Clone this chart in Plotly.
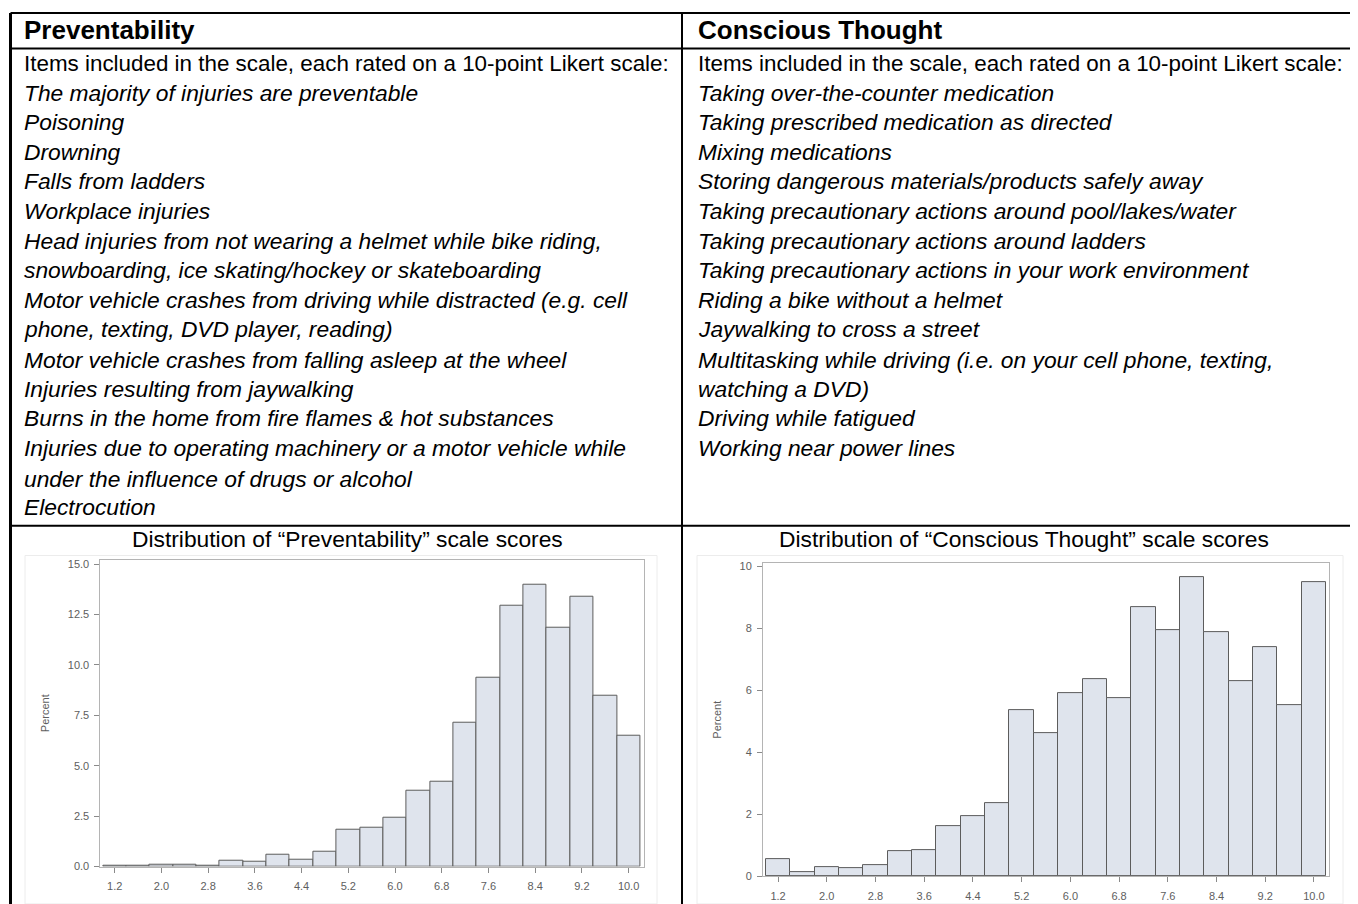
import plotly.graph_objects as go

# page body has an 8px default margin, so the figure is sized to fit inside it
OFF = 8
W, H = 1358 - OFF, 904 - OFF

# ---------------- data ----------------
bin_centers = [1.2, 1.6, 2.0, 2.4, 2.8, 3.2, 3.6, 4.0, 4.4, 4.8, 5.2, 5.6,
               6.0, 6.4, 6.8, 7.2, 7.6, 8.0, 8.4, 8.8, 9.2, 9.6, 10.0]
preventability_pct = [0.02, 0.05, 0.08, 0.07, 0.05, 0.28, 0.25, 0.57, 0.33, 0.72,
                      1.82, 1.92, 2.41, 3.77, 4.21, 7.14, 9.35, 12.95, 13.98,
                      11.86, 13.41, 8.47, 6.48]
conscious_pct = [0.55, 0.12, 0.31, 0.26, 0.35, 0.81, 0.83, 1.62, 1.95, 2.35,
                 5.36, 4.62, 5.90, 6.36, 5.75, 8.67, 7.94, 9.64, 7.87, 6.30,
                 7.39, 5.53, 9.50]
x_ticks = [1.2, 2.0, 2.8, 3.6, 4.4, 5.2, 6.0, 6.8, 7.6, 8.4, 9.2, 10.0]
y_ticks_left = [0, 2.5, 5.0, 7.5, 10.0, 12.5, 15.0]
y_ticks_right = [0, 2, 4, 6, 8, 10]

header_left = "Preventability"
header_right = "Conscious Thought"
intro = "Items included in the scale, each rated on a 10-point Likert scale:"
items_left = [
    "The majority of injuries are preventable",
    "Poisoning",
    "Drowning",
    "Falls from ladders",
    "Workplace injuries",
    "Head injuries from not wearing a helmet while bike riding,",
    "snowboarding, ice skating/hockey or skateboarding",
    "Motor vehicle crashes from driving while distracted (e.g. cell",
    "phone, texting, DVD player, reading)",
    "Motor vehicle crashes from falling asleep at the wheel",
    "Injuries resulting from jaywalking",
    "Burns in the home from fire flames & hot substances",
    "Injuries due to operating machinery or a motor vehicle while",
    "under the influence of drugs or alcohol",
    "Electrocution",
]
items_right = [
    "Taking over-the-counter medication",
    "Taking prescribed medication as directed",
    "Mixing medications",
    "Storing dangerous materials/products safely away",
    "Taking precautionary actions around pool/lakes/water",
    "Taking precautionary actions around ladders",
    "Taking precautionary actions in your work environment",
    "Riding a bike without a helmet",
    "Jaywalking to cross a street",
    "Multitasking while driving (i.e. on your cell phone, texting,",
    "watching a DVD)",
    "Driving while fatigued",
    "Working near power lines",
]
title_left = "Distribution of \u201cPreventability\u201d scale scores"
title_right = "Distribution of \u201cConscious Thought\u201d scale scores"

# ---------------- helpers (page pixel -> paper) ----------------
def px(x):
    return (x - OFF) / W

def py(y):
    return 1 - (y - OFF) / H

TEXT_FONT = "Liberation Sans"
AX_FONT = "Liberation Sans"
BAR_FILL = "#dfe4ed"
BAR_LINE = "#5c5c5c"

fig = go.Figure()
fig.add_trace(go.Bar(x=bin_centers, y=preventability_pct, width=0.4,
                     marker=dict(color=BAR_FILL, line=dict(color=BAR_LINE, width=1)),
                     xaxis="x", yaxis="y", showlegend=False))
fig.add_trace(go.Bar(x=bin_centers, y=conscious_pct, width=0.4,
                     marker=dict(color=BAR_FILL, line=dict(color=BAR_LINE, width=1)),
                     xaxis="x2", yaxis="y2", showlegend=False))

axis_common = dict(showgrid=False, zeroline=False, showline=True, linecolor="#b4b4b4",
                   linewidth=1, mirror=True, ticks="outside", ticklen=5, tickcolor="#8a8a8a",
                   tickfont=dict(family=AX_FONT, size=11, color="#5e5e5e"))
ytitle_font = dict(family=AX_FONT, size=11, color="#5e5e5e")

fig.update_layout(
    width=W, height=H, autosize=False,
    margin=dict(l=0, r=0, t=0, b=0),
    paper_bgcolor="white", plot_bgcolor="white",
    bargap=0,
    xaxis=dict(domain=[px(100.4), px(644)], range=[0.955, 10.264], anchor="y",
               tickvals=x_ticks, ticktext=[f"{v:.1f}" for v in x_ticks],
               ticklabelstandoff=4, **axis_common),
    yaxis=dict(domain=[py(872.3), py(562.3)], range=[0, 15.22], anchor="x",
               tickvals=y_ticks_left, ticktext=[f"{v:.1f}" for v in y_ticks_left],
               ticklabelstandoff=3,
               title=dict(text="Percent", font=ytitle_font, standoff=15),
               **axis_common),
    xaxis2=dict(domain=[px(763), px(1329)], range=[0.953, 10.247], anchor="y2",
                tickvals=x_ticks, ticktext=[f"{v:.1f}" for v in x_ticks],
                ticklabelstandoff=5, **axis_common),
    yaxis2=dict(domain=[py(882), py(565.7)], range=[0, 10.1], anchor="x2",
                tickvals=y_ticks_right, ticktext=[str(v) for v in y_ticks_right],
                ticklabelstandoff=3,
                title=dict(text="Percent", font=ytitle_font, standoff=15),
                **axis_common),
)

shapes = []
# faint SAS graph frames
for x0, x1 in [(25, 657), (697, 1343)]:
    shapes.append(dict(type="rect", xref="paper", yref="paper",
                       x0=px(x0), x1=px(x1), y0=py(910), y1=py(558),
                       line=dict(color="#ececec", width=1), fillcolor="rgba(0,0,0,0)", layer="below"))
# table borders
lines = [
    (10.5, 10, 1360, 10, 2),     # top
    (10.5, 46, 1360, 46, 2),     # header separator
    (10.5, 528, 1360, 528, 2),   # text / chart separator
    (10.5, 10, 10.5, 910, 3),    # left border
    (682, 10, 682, 910, 2),      # middle border
]
for x0, y0, x1, y1, w in lines:
    shapes.append(dict(type="line", xref="paper", yref="paper",
                       x0=px(x0), y0=py(y0), x1=px(x1), y1=py(y1),
                       line=dict(color="black", width=w)))
fig.update_layout(shapes=shapes)

ann = []
def text(x, y, s, size=22.4, anchor="left"):
    ann.append(dict(xref="paper", yref="paper", x=px(x), y=py(y), text=s, showarrow=False,
                    xanchor=anchor, yanchor="middle",
                    font=dict(family=TEXT_FONT, size=size, color="black")))

LINE_Y = [61.5, 90.5, 120.5, 150.5, 179.5, 210.5, 240.5, 269.5, 299.5, 329.5,
          360.5, 389.5, 419.5, 449.5, 480.5, 509.5]
text(22, 27.5, f"<b>{header_left}</b>", size=26)
text(696, 27.5, f"<b>{header_right}</b>", size=26)
text(22, LINE_Y[0], intro)
text(696, LINE_Y[0], intro)
for i, s in enumerate(items_left):
    text(22, LINE_Y[i + 1], f"<i>{s}</i>", size=22.8)
for i, s in enumerate(items_right):
    text(696, LINE_Y[i + 1], f"<i>{s}</i>", size=22.8)
text(348, 541.5, title_left, size=22.8, anchor="center")
text(1024, 541.5, title_right, size=22.8, anchor="center")
fig.update_layout(annotations=ann)

fig.write_html("out.html")
